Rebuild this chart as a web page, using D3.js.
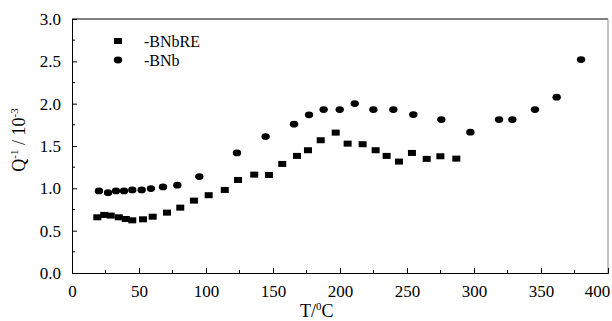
<!DOCTYPE html>
<html>
<head>
<meta charset="utf-8">
<script src="https://cdn.jsdelivr.net/npm/d3@7"></script>
<style>
body { margin: 0; background: #fff; }
text { font-family: "Liberation Serif", "Times New Roman", serif; fill: #000; }
</style>
</head>
<body>
<div id="chart"></div>
<script>
// BNbRE series (squares)
var bnbreT = [18.9, 24.1, 28.9, 34.9, 40.1, 45.0, 53.0, 60.2, 70.9, 80.8, 91.0, 102.0, 114.0, 123.9, 136.0, 147.0, 156.9, 167.9, 176.1, 185.6, 196.8, 205.7, 216.9, 226.6, 234.8, 244.0, 253.7, 264.7, 274.9, 286.8];
var bnbreQ = [0.658, 0.686, 0.678, 0.658, 0.638, 0.622, 0.634, 0.665, 0.713, 0.772, 0.855, 0.919, 0.981, 1.099, 1.162, 1.158, 1.288, 1.383, 1.450, 1.568, 1.658, 1.528, 1.521, 1.450, 1.383, 1.316, 1.418, 1.348, 1.379, 1.351];
// BNb series (circles)
var bnbT = [20.1, 26.9, 32.8, 38.8, 45.0, 52.0, 58.9, 67.9, 78.6, 95.0, 123.1, 144.5, 165.7, 176.9, 187.8, 199.8, 211.0, 224.9, 239.8, 254.7, 275.6, 297.3, 318.7, 328.6, 345.5, 361.7, 379.9];
var bnbQ = [0.969, 0.949, 0.969, 0.969, 0.981, 0.981, 0.997, 1.017, 1.037, 1.139, 1.418, 1.611, 1.758, 1.868, 1.930, 1.930, 2.001, 1.930, 1.930, 1.871, 1.812, 1.663, 1.812, 1.812, 1.930, 2.077, 2.521];

var xTicks = [0, 50, 100, 150, 200, 250, 300, 350, 400];
var yTicks = [0.0, 0.5, 1.0, 1.5, 2.0, 2.5, 3.0];

var width = 612, height = 321;
var padL = 72, padR = 608, padT = 19, padB = 273;

var svg = d3.select('#chart').append('svg').attr('width', width).attr('height', height);

var x = d3.scaleLinear().domain([0, 400]).range([padL, padR]);
var y = d3.scaleLinear().domain([0, 3]).range([padB, padT]);

// frame: top black, right gray
svg.append('line').attr('x1', padL).attr('x2', padR).attr('y1', padT).attr('y2', padT)
	.attr('stroke', '#000').attr('stroke-width', 1);
svg.append('line').attr('x1', padR).attr('x2', padR).attr('y1', padT).attr('y2', padB)
	.attr('stroke', '#888').attr('stroke-width', 1);

// x axis, ticks inward
var xAxis = d3.axisBottom(x).tickValues(xTicks).tickSize(-5).tickPadding(12).tickFormat(d3.format('d'));
var gx = svg.append('g').attr('transform', 'translate(0,' + padB + ')').call(xAxis);
var xMinor = d3.range(25, 400, 50);
gx.selectAll('.minor').data(xMinor).enter().append('line').attr('class', 'minor')
	.attr('x1', function(d){ return x(d); }).attr('x2', function(d){ return x(d); })
	.attr('y1', 0).attr('y2', -3).attr('stroke', '#000');
// last label pulled in so it fits the page
gx.selectAll('.tick text').filter(function(d){ return d == 400; }).attr('text-anchor', 'end').attr('dx', '0.1em');

// y axis, ticks inward
var yAxis = d3.axisLeft(y).tickValues(yTicks).tickSize(-5).tickPadding(11).tickFormat(d3.format('.1f'));
var gy = svg.append('g').attr('transform', 'translate(' + padL + ',0)').call(yAxis);
var yMinor = d3.range(0.25, 3, 0.5);
gy.selectAll('.minor').data(yMinor).enter().append('line').attr('class', 'minor')
	.attr('x1', 0).attr('x2', 3)
	.attr('y1', function(d){ return y(d); }).attr('y2', function(d){ return y(d); }).attr('stroke', '#000');

svg.selectAll('.domain').attr('stroke', '#000');
svg.selectAll('.tick line').attr('stroke', '#000');
svg.selectAll('.tick text').style('font-family', '"Liberation Serif", serif').style('font-size', '17px').attr('fill', '#000');

// data
var sq = bnbreT.map(function(t, i){ return {t: t, q: bnbreQ[i]}; });
var ci = bnbT.map(function(t, i){ return {t: t, q: bnbQ[i]}; });

svg.append('g').selectAll('rect').data(sq).enter().append('rect')
	.attr('x', function(d){ return x(d.t) - 4; })
	.attr('y', function(d){ return y(d.q) - 3; })
	.attr('width', 8).attr('height', 6).attr('fill', '#000');

svg.append('g').selectAll('ellipse').data(ci).enter().append('ellipse')
	.attr('cx', function(d){ return x(d.t); })
	.attr('cy', function(d){ return y(d.q); })
	.attr('rx', 4.2).attr('ry', 3.4).attr('fill', '#000');

// legend
svg.append('rect').attr('x', 114).attr('y', 38).attr('width', 8).attr('height', 6).attr('fill', '#000');
svg.append('text').attr('x', 144).attr('y', 47).style('font-size', '16px').text('-BNbRE');
svg.append('ellipse').attr('cx', 118).attr('cy', 60).attr('rx', 4.2).attr('ry', 3.4).attr('fill', '#000');
svg.append('text').attr('x', 144).attr('y', 66).style('font-size', '16px').text('-BNb');

// x title
var xt = svg.append('text').attr('x', 300).attr('y', 317).style('font-size', '18px');
xt.append('tspan').text('T/');
xt.append('tspan').attr('dy', -7).style('font-size', '11px').text('0');
xt.append('tspan').attr('dy', 7).text('C');

// y title
var yt = svg.append('text').attr('transform', 'translate(25,140) rotate(-90)')
	.attr('text-anchor', 'middle').style('font-size', '18px');
yt.append('tspan').text('Q');
yt.append('tspan').attr('dy', -7).style('font-size', '11px').text('-1');
yt.append('tspan').attr('dy', 7).text(' / 10');
yt.append('tspan').attr('dy', -7).style('font-size', '11px').text('-3');
</script>
</body>
</html>
